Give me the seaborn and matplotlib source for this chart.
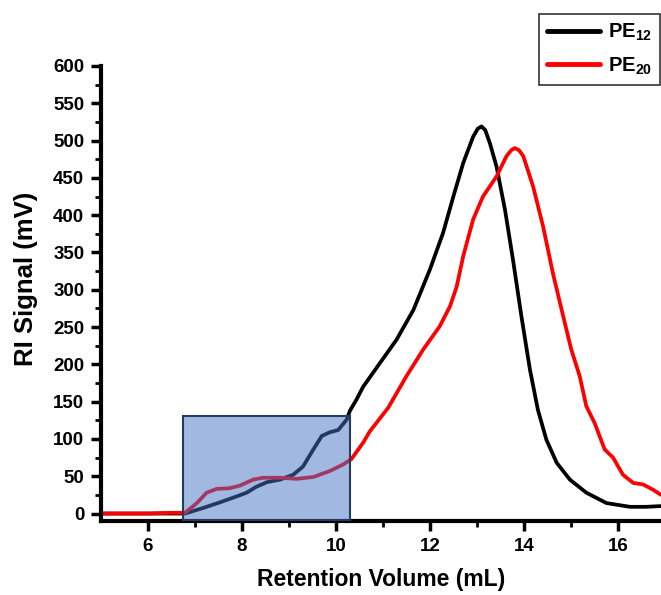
import numpy as np
import pandas as pd
import matplotlib
matplotlib.use("Agg")
import matplotlib.pyplot as plt
import seaborn as sns
from matplotlib.patches import Rectangle

# PE12 (black) trace
pe12_x = [5.0, 6.0, 6.5, 6.79, 7.18, 7.53, 7.89, 8.10, 8.31, 8.53, 8.81, 9.09, 9.30, 9.52, 9.70,
          9.87, 10.05, 10.23, 10.30, 10.44, 10.58, 10.94, 11.29, 11.65, 12.0, 12.28, 12.50,
          12.71, 12.92, 13.02, 13.10, 13.18, 13.28, 13.42, 13.60, 13.77, 13.95, 14.13, 14.30,
          14.48, 14.70, 14.98, 15.33, 15.76, 16.26, 16.6, 16.92]
pe12_y = [0, 0, 0, 0, 7.6, 15, 23, 28, 36, 42, 45.5, 52, 63, 86, 104,
          109, 112, 126, 138, 153, 170, 202, 233, 273, 327, 376, 425,
          470, 505, 516, 519, 514, 496, 465, 407, 340, 264, 193, 139,
          99, 68, 45.5, 28, 14, 9, 9, 10]

# PE20 (red) trace
pe20_x = [5.0, 6.0, 6.47, 6.79, 7.04, 7.25, 7.46, 7.74, 7.96, 8.24, 8.45, 8.81, 9.16, 9.52,
          9.87, 10.16, 10.33, 10.58, 10.72, 11.11, 11.50, 11.86, 12.21, 12.43, 12.57, 12.71,
          12.92, 13.13, 13.42, 13.63, 13.73, 13.81, 13.90, 13.99, 14.20, 14.41, 14.62, 14.84,
          15.01, 15.19, 15.33, 15.51, 15.72, 15.90, 16.11, 16.33, 16.54, 16.75, 16.92]
pe20_y = [0, 0, 1, 1, 14, 28, 33, 34, 37.5, 45.5, 48, 48, 46.5, 49,
          57, 66, 73, 95, 110, 141.5, 184, 220, 251, 278, 304, 345,
          394, 425, 452, 479, 487, 490, 487, 479, 438, 385, 322, 264,
          220, 184, 144, 121, 86, 75, 52, 41, 39, 32, 25]

labels = ["PE$_{12}$", "PE$_{20}$"]
colors = ["black", "red"]

df = pd.concat([
    pd.DataFrame({"x": pe12_x, "y": pe12_y, "s": labels[0]}),
    pd.DataFrame({"x": pe20_x, "y": pe20_y, "s": labels[1]}),
])

sns.set_style("ticks")
plt.rcParams["font.family"] = ["Liberation Sans", "DejaVu Sans"]
plt.rcParams["font.weight"] = "bold"
plt.rcParams["mathtext.default"] = "regular"
for k in ["text.color", "axes.labelcolor", "xtick.color", "ytick.color", "axes.edgecolor"]:
    plt.rcParams[k] = "black"

fig = plt.figure(figsize=(6.61, 5.95), dpi=100)
ax = fig.add_axes([101/661, 1-521/595, 1-101/661, (521-66)/595])

for lab, col in zip(labels, colors):
    d = df[df["s"] == lab]
    sns.lineplot(data=d, x="x", y="y", ax=ax, color=col, lw=2.7, label=lab, sort=False,
                 estimator=None)
for line in ax.get_lines():
    line.set_solid_joinstyle("round")
    line.set_solid_capstyle("round")

rect = Rectangle((6.75, -10), 10.3 - 6.75, 131 + 10, facecolor="#4472C4", alpha=0.5,
                 edgecolor="none", zorder=5)
ax.add_patch(rect)
rect2 = Rectangle((6.75, -10), 10.3 - 6.75, 131 + 10, facecolor="none",
                  edgecolor="#243B63", lw=1.5, zorder=6)
ax.add_patch(rect2)

ax.set_xlim(5, 16.92)
ax.set_ylim(-10, 600)
ax.set_xticks([6, 8, 10, 12, 14, 16])
ax.set_xticks([7, 9, 11, 13, 15], minor=True)
ax.set_yticks(range(0, 601, 50))
ax.set_yticks(range(25, 600, 50), minor=True)
ax.tick_params(axis="both", which="major", direction="out", length=7, width=2.5, labelsize=13.5,
               pad=5, colors="black")
ax.tick_params(axis="both", which="minor", direction="out", length=4, width=2, colors="black")
for t in ax.get_xticklabels() + ax.get_yticklabels():
    t.set_fontweight("bold")
sns.despine(ax=ax)
for sp in ["left", "bottom"]:
    ax.spines[sp].set_linewidth(3)
    ax.spines[sp].set_color("black")

ax.set_xlabel("Retention Volume (mL)", fontsize=16.5, fontweight="bold", color="black")
ax.set_ylabel("RI Signal (mV)", fontsize=18.5, fontweight="bold", color="black")
ax.xaxis.set_label_coords(0.5, (521 - 568) / 455)
ax.yaxis.set_label_coords((38 - 101) / 560, (521 - 279) / 455)

leg = fig.legend(loc="upper right", bbox_to_anchor=(660/661, 1 - 14/595), frameon=True,
                 fancybox=False, edgecolor="black", handlelength=2.6, borderpad=0.4,
                 labelspacing=0.6, borderaxespad=0, handletextpad=0.4,
                 prop={"weight": "bold", "size": 14.5})
ax.get_legend().remove()
leg.get_frame().set_linewidth(1.2)
for line in leg.get_lines():
    line.set_linewidth(3.5)

fig.savefig("out.png", dpi=100)
